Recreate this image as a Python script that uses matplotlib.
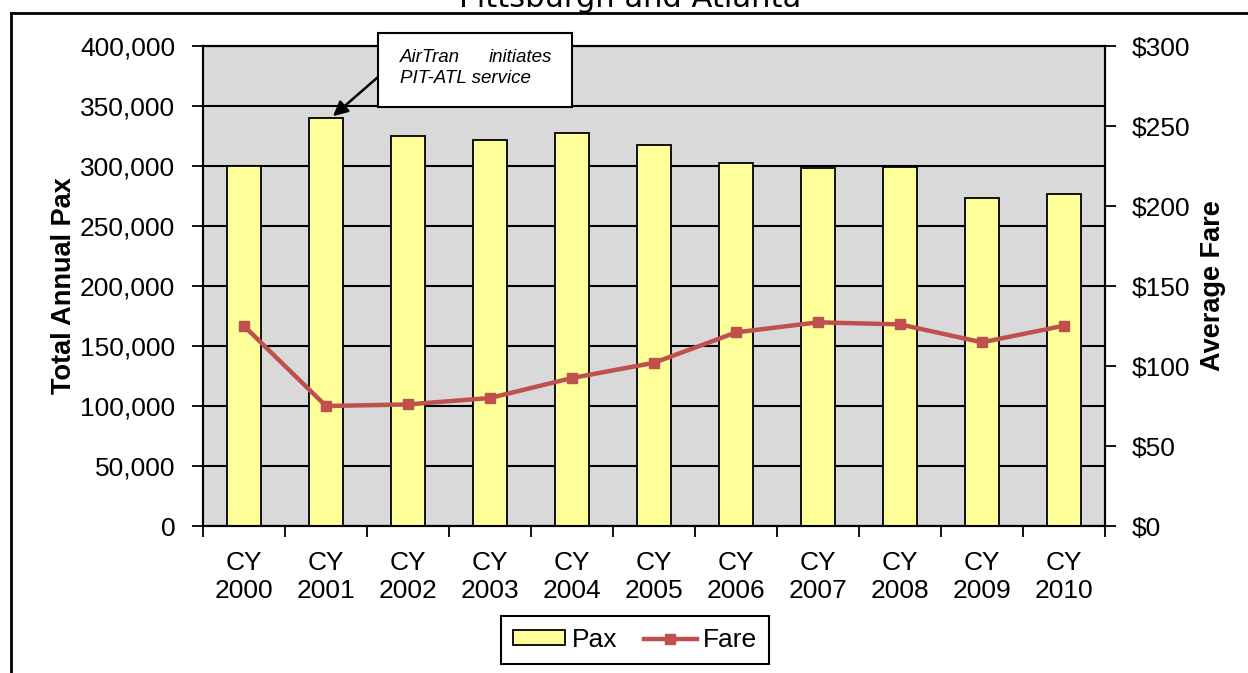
import matplotlib.pyplot as plt
from matplotlib.lines import Line2D
from matplotlib.patches import Rectangle
from matplotlib.ticker import FuncFormatter, MultipleLocator

plt.rcParams['font.family'] = ['Liberation Sans', 'DejaVu Sans']

# data
years = ['2000', '2001', '2002', '2003', '2004', '2005',
         '2006', '2007', '2008', '2009', '2010']
pax = [300000, 340000, 325000, 322000, 327500, 317500,
       302500, 298500, 299500, 273500, 276500]
fare = [125, 75, 76, 80, 92.5, 102, 121, 127.3, 126, 114.8, 125.2]
x_labels = ['CY\n' + y for y in years]

W, H = 1248, 673
fig = plt.figure(figsize=(W / 100, H / 100), dpi=100)
ax = fig.add_axes([203 / W, 1 - 526 / H, 902 / W, 480 / H])
ax.set_facecolor('#D9D9D9')

xs = list(range(len(years)))
ax.bar(xs, pax, width=0.41, color='#FFFF99', edgecolor='black',
       linewidth=1.3, zorder=3, label='Pax')

ax.set_xlim(-0.5, len(years) - 0.5)
ax.set_ylim(0, 400000)
ax.yaxis.set_major_locator(MultipleLocator(50000))
ax.yaxis.set_major_formatter(FuncFormatter(lambda v, p: f'{int(v):,}'))
ax.grid(True, axis='y', color='black', linewidth=1.5, zorder=1)
ax.set_axisbelow(True)

# category boundaries carry the ticks, labels sit in between
ax.set_xticks([i - 0.5 for i in range(len(years) + 1)])
ax.set_xticklabels([])
ax.set_xticks(xs, minor=True)
ax.set_xticklabels(x_labels, minor=True, fontsize=19, linespacing=1.2)
ax.tick_params(axis='x', which='major', length=8, width=1.3, direction='out')
ax.tick_params(axis='x', which='minor', length=0, pad=18)
ax.tick_params(axis='y', length=8, width=1.3, direction='out',
               labelsize=19, pad=12)
for s in ax.spines.values():
    s.set_linewidth(1.5)
    s.set_color('black')

ax.set_ylabel('Total Annual Pax', fontsize=19.5, fontweight='bold',
              labelpad=2)

ax2 = ax.twinx()
ax2.plot(xs, fare, color='#C0504D', linewidth=3.2, marker='s',
         markersize=7, zorder=5, label='Fare')
ax2.set_ylim(0, 300)
ax2.yaxis.set_major_locator(MultipleLocator(50))
ax2.yaxis.set_major_formatter(FuncFormatter(lambda v, p: f'${int(v)}'))
ax2.tick_params(axis='y', length=8, width=1.3, direction='out',
                labelsize=19, pad=11)
ax2.set_ylabel('Average Fare', fontsize=19.5, fontweight='bold', labelpad=7)
for s in ax2.spines.values():
    s.set_linewidth(1.5)

# title, cut off at the top edge like the source
fig.text(630 / W, 1 - 7 / H, 'Pittsburgh and Atlanta', family='DejaVu Sans',
         fontsize=22, ha='center', va='baseline')

# outer frame lines
fig.add_artist(Line2D([11 / W, 11 / W], [0, 1 - 13 / H], color='black',
                      linewidth=2, transform=fig.transFigure))
fig.add_artist(Line2D([11 / W, 1], [1 - 13 / H, 1 - 13 / H], color='black',
                      linewidth=2, transform=fig.transFigure))

# callout box
fig.add_artist(Rectangle((378 / W, 1 - 107 / H), 194 / W, 74 / H,
                         facecolor='white', edgecolor='black', linewidth=1.5,
                         transform=fig.transFigure, zorder=10))
fig.text(400 / W, 1 - 62 / H, 'AirTran', style='italic', fontsize=13.5,
         va='baseline', zorder=11)
fig.text(552 / W, 1 - 62 / H, 'initiates', style='italic', fontsize=13.5,
         va='baseline', ha='right', zorder=11)
fig.text(400 / W, 1 - 83 / H, 'PIT-ATL service', style='italic',
         fontsize=13.5, va='baseline', zorder=11)
ax.annotate('', xy=(1.085, 341500), xycoords='data',
            xytext=(378 / W, 1 - 77 / H), textcoords='figure fraction',
            arrowprops=dict(arrowstyle='-|>', color='black', lw=1.8,
                            mutation_scale=22, shrinkA=0, shrinkB=0),
            zorder=12, annotation_clip=False)

h1, l1 = ax.get_legend_handles_labels()
h2, l2 = ax2.get_legend_handles_labels()
leg = fig.legend(h1 + h2, l1 + l2, loc='center',
                 bbox_to_anchor=(635 / W, 1 - 640 / H), ncol=2,
                 fontsize=19, fancybox=False, edgecolor='black',
                 framealpha=1, handlelength=2.0, handletextpad=0.25,
                 columnspacing=1.0, borderpad=0.45, handleheight=0.5)
leg.get_frame().set_linewidth(1.5)

fig.savefig('out.png', dpi=100, facecolor='white')
